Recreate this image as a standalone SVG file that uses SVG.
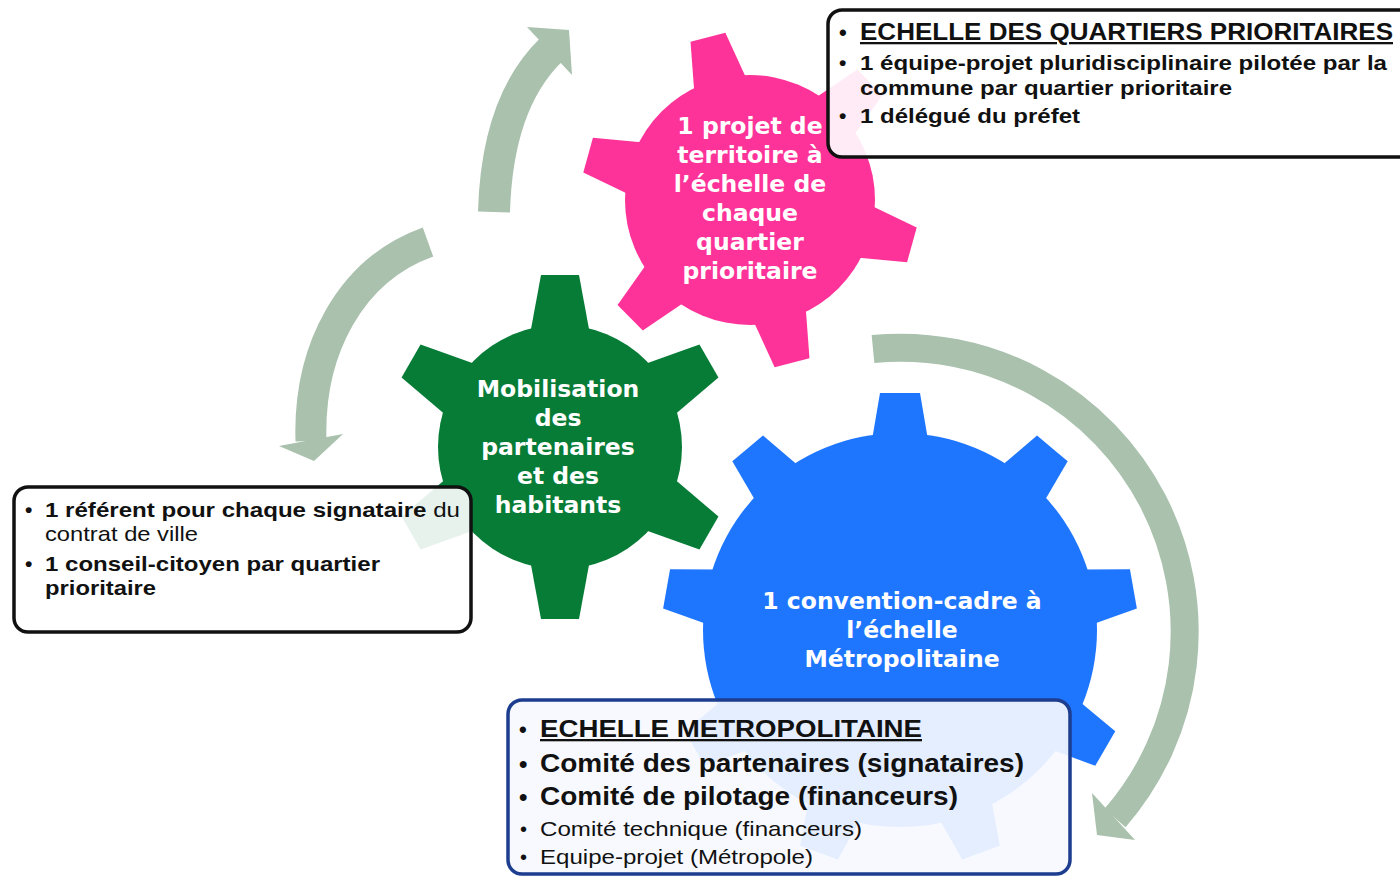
<svg xmlns="http://www.w3.org/2000/svg" width="1400" height="877" viewBox="0 0 1400 877">
<defs>
<style>
.gt{font-family:"DejaVu Sans",Verdana,sans-serif;font-weight:bold;font-size:23.5px;fill:#fff;text-anchor:middle}
.bx{font-family:"Liberation Sans",Arial,sans-serif;fill:#111}
.b{font-weight:bold}
.arr{fill:none;stroke:#a9c1ad;stroke-linecap:butt}
.head{fill:#a9c1ad}
.box{fill:#fff;fill-opacity:0.9;stroke:#111;stroke-width:3.5}
.boxb{fill:#f6f9ff;fill-opacity:0.92;stroke:#1d3d8f;stroke-width:3.5}
</style>
<polygon id="tp" points="723,82 732,32 768,32 777,82"/>
<polygon id="tg" points="531,329 541,275 579,275 589,329"/>
<polygon id="tb" points="872,440 880,393 920,393 928,440"/>
</defs>
<rect width="1400" height="877" fill="#fff"/>

<g id="connectors">
<path class="arr" stroke-width="32" d="M494 212 C496 140 514 86 551 50"/>
<polygon class="head" points="527,27 569,30 572,75"/>
<path class="arr" stroke-width="31" d="M428 242 C350 270 308 350 311 441"/>
<polygon class="head" points="279,446 343,434 314,461"/>
<path class="arr" stroke-width="28" d="M873 349 A284 284 0 0 1 1115 818"/>
<polygon class="head" points="1092,793 1135,840 1097,835"/>
</g>

<g id="gear-pink" fill="#fe3399">
<circle cx="750" cy="200" r="125"/>
<use href="#tp" transform="rotate(-14.5 750 200)"/>
<use href="#tp" transform="rotate(45.5 750 200)"/>
<use href="#tp" transform="rotate(105.5 750 200)"/>
<use href="#tp" transform="rotate(165.5 750 200)"/>
<use href="#tp" transform="rotate(225.5 750 200)"/>
<use href="#tp" transform="rotate(285.5 750 200)"/>
<text class="gt" x="750" y="134">1 projet de</text>
<text class="gt" x="750" y="163">territoire à</text>
<text class="gt" x="750" y="192">l’échelle de</text>
<text class="gt" x="750" y="221">chaque</text>
<text class="gt" x="750" y="250">quartier</text>
<text class="gt" x="750" y="279">prioritaire</text>
</g>

<g id="gear-green" fill="#077c37">
<circle cx="560" cy="447" r="122"/>
<use href="#tg"/>
<use href="#tg" transform="rotate(60 560 447)"/>
<use href="#tg" transform="rotate(120 560 447)"/>
<use href="#tg" transform="rotate(180 560 447)"/>
<use href="#tg" transform="rotate(240 560 447)"/>
<use href="#tg" transform="rotate(300 560 447)"/>
<text class="gt" x="558" y="397">Mobilisation</text>
<text class="gt" x="558" y="426">des</text>
<text class="gt" x="558" y="455">partenaires</text>
<text class="gt" x="558" y="484">et des</text>
<text class="gt" x="558" y="513">habitants</text>
</g>

<g id="gear-blue" fill="#1f76fe">
<circle cx="900" cy="630" r="197"/>
<use href="#tb"/>
<use href="#tb" transform="rotate(40 900 630)"/>
<use href="#tb" transform="rotate(80 900 630)"/>
<use href="#tb" transform="rotate(120 900 630)"/>
<use href="#tb" transform="rotate(160 900 630)"/>
<use href="#tb" transform="rotate(200 900 630)"/>
<use href="#tb" transform="rotate(240 900 630)"/>
<use href="#tb" transform="rotate(280 900 630)"/>
<use href="#tb" transform="rotate(320 900 630)"/>
<text class="gt" x="902" y="609">1 convention-cadre à</text>
<text class="gt" x="902" y="638">l’échelle</text>
<text class="gt" x="902" y="667">Métropolitaine</text>
</g>

<g id="box-quartiers">
<rect class="box" x="828" y="10" width="590" height="147" rx="14"/>
<text class="bx b" x="839" y="40" font-size="22">•</text>
<text class="bx b" x="860" y="40" font-size="23" textLength="533" lengthAdjust="spacingAndGlyphs" text-decoration="underline">ECHELLE DES QUARTIERS PRIORITAIRES</text>
<text class="bx b" x="839" y="70" font-size="21">•</text>
<text class="bx b" x="860" y="70" font-size="21" textLength="527" lengthAdjust="spacingAndGlyphs">1 équipe-projet pluridisciplinaire pilotée par la</text>
<text class="bx b" x="860" y="95" font-size="21" textLength="372" lengthAdjust="spacingAndGlyphs">commune par quartier prioritaire</text>
<text class="bx b" x="839" y="123" font-size="21">•</text>
<text class="bx b" x="860" y="123" font-size="21" textLength="220" lengthAdjust="spacingAndGlyphs">1 délégué du préfet</text>
</g>

<g id="box-partenaires">
<rect class="box" x="14" y="487" width="457" height="145" rx="14"/>
<text class="bx b" x="25" y="517" font-size="21">•</text>
<text class="bx" x="45" y="517" font-size="21" textLength="415" lengthAdjust="spacingAndGlyphs"><tspan font-weight="bold">1 référent pour chaque signataire</tspan> du</text>
<text class="bx" x="45" y="541" font-size="21" textLength="153" lengthAdjust="spacingAndGlyphs">contrat de ville</text>
<text class="bx b" x="25" y="571" font-size="21">•</text>
<text class="bx b" x="45" y="571" font-size="21" textLength="335" lengthAdjust="spacingAndGlyphs">1 conseil-citoyen par quartier</text>
<text class="bx b" x="45" y="595" font-size="21" textLength="111" lengthAdjust="spacingAndGlyphs">prioritaire</text>
</g>

<g id="box-metropole">
<rect class="boxb" x="508" y="700" width="562" height="174" rx="14"/>
<text class="bx b" x="519" y="737" font-size="22">•</text>
<text class="bx b" x="540" y="737" font-size="23" textLength="382" lengthAdjust="spacingAndGlyphs" text-decoration="underline">ECHELLE METROPOLITAINE</text>
<text class="bx b" x="519" y="772" font-size="24">•</text>
<text class="bx b" x="540" y="772" font-size="25" textLength="484" lengthAdjust="spacingAndGlyphs">Comité des partenaires (signataires)</text>
<text class="bx b" x="519" y="805" font-size="24">•</text>
<text class="bx b" x="540" y="805" font-size="25" textLength="418" lengthAdjust="spacingAndGlyphs">Comité de pilotage (financeurs)</text>
<text class="bx" x="520" y="836" font-size="20">•</text>
<text class="bx" x="540" y="836" font-size="21" textLength="322" lengthAdjust="spacingAndGlyphs">Comité technique (financeurs)</text>
<text class="bx" x="520" y="864" font-size="20">•</text>
<text class="bx" x="540" y="864" font-size="21" textLength="273" lengthAdjust="spacingAndGlyphs">Equipe-projet (Métropole)</text>
</g>
</svg>
